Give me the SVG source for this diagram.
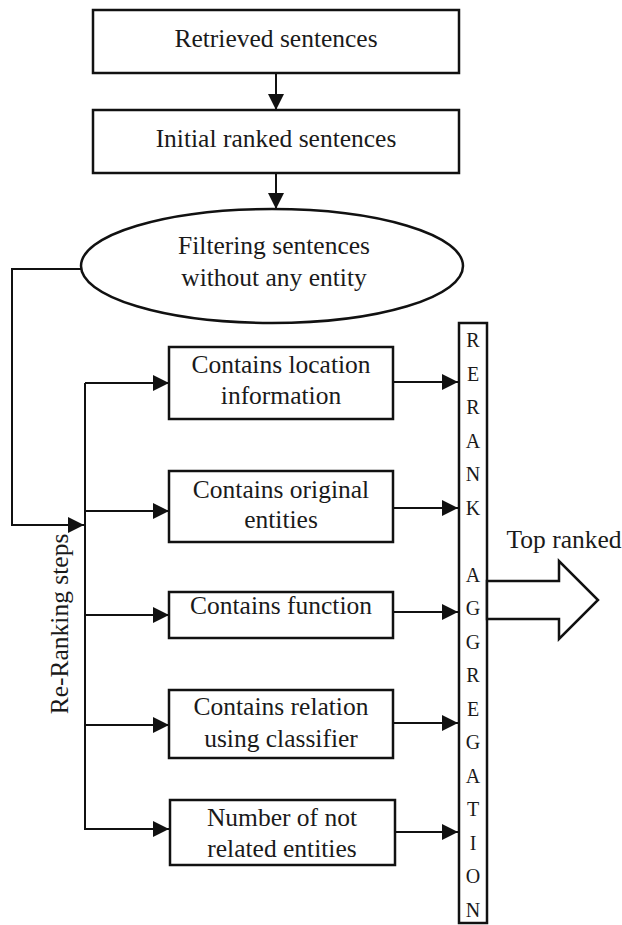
<svg xmlns="http://www.w3.org/2000/svg" width="622" height="925" viewBox="0 0 622 925">
<style>
.box{fill:#fff;stroke:#111;stroke-width:2.5}
.ln{fill:none;stroke:#111;stroke-width:2}
.t{font-family:"Liberation Serif","Times New Roman",serif;font-size:25.5px;fill:#1a1a1a;text-anchor:middle}
.c{font-family:"Liberation Serif","Times New Roman",serif;font-size:20px;fill:#1a1a1a;text-anchor:middle}
</style>
<defs>
<marker id="ah" markerUnits="userSpaceOnUse" markerWidth="16" markerHeight="16" refX="16" refY="8" orient="auto">
<path d="M0,0 L16,8 L0,16 z" fill="#111"/>
</marker>
</defs>
<rect width="622" height="925" fill="#fff"/>
<g id="connectors">
<line class="ln" x1="276" y1="73" x2="276" y2="110" marker-end="url(#ah)"/>
<line class="ln" x1="276" y1="173" x2="276" y2="209" marker-end="url(#ah)"/>
<polyline class="ln" points="81,269 12,269 12,525 84,525" marker-end="url(#ah)"/>
<line class="ln" x1="85" y1="383" x2="85" y2="830"/>
<line class="ln" x1="85" y1="383" x2="169" y2="383" marker-end="url(#ah)"/>
<line class="ln" x1="85" y1="511" x2="169" y2="511" marker-end="url(#ah)"/>
<line class="ln" x1="85" y1="615" x2="169" y2="615" marker-end="url(#ah)"/>
<line class="ln" x1="85" y1="725" x2="169" y2="725" marker-end="url(#ah)"/>
<line class="ln" x1="85" y1="829" x2="169" y2="829" marker-end="url(#ah)"/>
<line class="ln" x1="394" y1="382" x2="458" y2="382" marker-end="url(#ah)"/>
<line class="ln" x1="394" y1="508" x2="458" y2="508" marker-end="url(#ah)"/>
<line class="ln" x1="394" y1="612" x2="458" y2="612" marker-end="url(#ah)"/>
<line class="ln" x1="394" y1="723" x2="458" y2="723" marker-end="url(#ah)"/>
<line class="ln" x1="395" y1="832" x2="458" y2="832" marker-end="url(#ah)"/>
</g>
<g id="retrieved">
<rect class="box" x="93" y="10" width="366" height="63"/>
<text class="t" x="276" y="47">Retrieved sentences</text>
</g>
<g id="initial">
<rect class="box" x="93" y="110" width="366" height="63"/>
<text class="t" x="276" y="147">Initial ranked sentences</text>
</g>
<g id="filtering">
<ellipse class="box" cx="272" cy="266" rx="191" ry="57"/>
<text class="t" x="274" y="254">Filtering sentences</text>
<text class="t" x="274" y="286">without any entity</text>
</g>
<g id="reranking-label">
<text class="t" transform="translate(68,624) rotate(-90)" x="0" y="0">Re-Ranking steps</text>
</g>
<g id="location">
<rect class="box" x="169" y="347" width="224" height="72"/>
<text class="t" x="281" y="373">Contains location</text>
<text class="t" x="281" y="404">information</text>
</g>
<g id="original">
<rect class="box" x="169" y="471" width="224" height="71"/>
<text class="t" x="281" y="498">Contains original</text>
<text class="t" x="281" y="528">entities</text>
</g>
<g id="function">
<rect class="box" x="169" y="592" width="224" height="46"/>
<text class="t" x="281" y="614">Contains function</text>
</g>
<g id="relation">
<rect class="box" x="169" y="690" width="224" height="68"/>
<text class="t" x="281" y="715">Contains relation</text>
<text class="t" x="281" y="747">using classifier</text>
</g>
<g id="notrelated">
<rect class="box" x="170" y="800" width="225" height="65"/>
<text class="t" x="282" y="826">Number of not</text>
<text class="t" x="282" y="857">related entities</text>
</g>
<g id="aggregation">
<rect class="box" x="459" y="323" width="28" height="600"/>
<text class="c" x="473" y="347">R</text>
<text class="c" x="473" y="381">E</text>
<text class="c" x="473" y="414">R</text>
<text class="c" x="473" y="448">A</text>
<text class="c" x="473" y="481">N</text>
<text class="c" x="473" y="515">K</text>
<text class="c" x="473" y="582">A</text>
<text class="c" x="473" y="615">G</text>
<text class="c" x="473" y="649">G</text>
<text class="c" x="473" y="682">R</text>
<text class="c" x="473" y="716">E</text>
<text class="c" x="473" y="749">G</text>
<text class="c" x="473" y="783">A</text>
<text class="c" x="473" y="816">T</text>
<text class="c" x="473" y="850">I</text>
<text class="c" x="473" y="883">O</text>
<text class="c" x="473" y="917">N</text>
</g>
<g id="topranked">
<polygon class="box" points="487,581 559,581 559,561 598,600 559,639 559,619 487,619" stroke-width="2"/>
<text class="t" x="564" y="548">Top ranked</text>
</g>
</svg>
